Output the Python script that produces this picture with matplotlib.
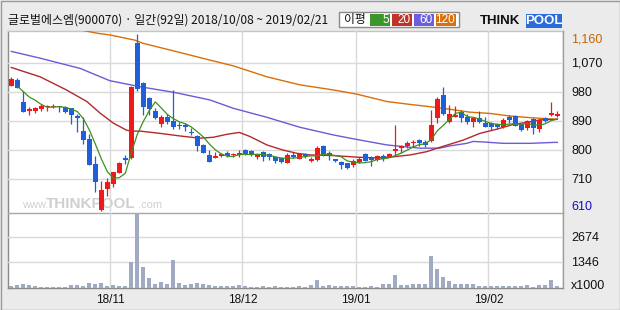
import numpy as np
import matplotlib.pyplot as plt
from matplotlib.patches import Rectangle

plt.rcParams['font.family'] = ['Noto Sans CJK KR', 'DejaVu Sans']

nan = np.nan

# daily candles, 2018/10/08 ~ 2019/02/21 (92 trading days)
opens = [1000, 1018, 950, 921, 923, 928, 933, 933, 937, 935, 930, 906, 860, 834, 757, 615, 679, 694, 730, 774,
         774, 1132, 1009, 961, 922, 881, 902, 890, 879, 878, 857, 844, 816, 785, 774, 783, 792, 785, 786, 800,
         797, 778, 794, 788, 778, 775, 761, 785, 773, 788, 767, 769, 813, 792, 771, 763, 759, 754, 763, 788,
         774, 769, 782, 780, 797, 808, 814, 821, 831, 824, 828, 899, 971, 888, 904, 919, 904, 886, 899, 885,
         883, 880, 873, 904, 907, 881, 870, 897, 866, 900, 908, 907]
highs = [1026, 1023, 984, 935, 935, 942, 941, 942, 937, 938, 932, 912, 902, 849, 782, 704, 712, 733, 763, 785,
         998, 1160, 1012, 965, 930, 909, 911, 987, 888, 883, 868, 846, 820, 800, 795, 792, 797, 790, 800, 802,
         799, 789, 796, 790, 780, 777, 791, 793, 790, 792, 779, 813, 815, 796, 773, 765, 761, 771, 780, 790,
         781, 785, 787, 790, 878, 816, 828, 831, 834, 831, 925, 964, 995, 940, 937, 925, 911, 901, 922, 904,
         888, 885, 899, 909, 909, 884, 894, 900, 897, 902, 950, 923]
lows = [1000, 992, 920, 908, 916, 922, 923, 932, 919, 916, 880, 857, 818, 754, 670, 610, 657, 685, 730, 757,
        771, 985, 909, 909, 896, 873, 880, 865, 865, 859, 847, 797, 790, 762, 774, 778, 780, 780, 778, 785,
        782, 773, 767, 770, 761, 761, 761, 775, 772, 775, 762, 767, 783, 769, 763, 740, 740, 746, 760, 765,
        751, 767, 767, 778, 785, 792, 808, 810, 813, 810, 826, 883, 910, 883, 902, 888, 881, 873, 884, 871,
        863, 867, 870, 883, 874, 860, 863, 850, 857, 888, 906, 902]
closes = [1020, 992, 920, 927, 931, 938, 937, 938, 933, 918, 908, 901, 832, 754, 702, 676, 702, 733, 759, 769,
          995, 989, 935, 928, 901, 902, 888, 873, 874, 873, 852, 814, 792, 764, 781, 788, 782, 787, 790, 788,
          784, 788, 780, 778, 767, 764, 785, 780, 788, 782, 773, 807, 785, 784, 766, 754, 743, 766, 773, 767,
          769, 781, 773, 788, 803, 812, 823, 825, 821, 817, 878, 959, 911, 912, 909, 901, 888, 899, 886, 873,
          871, 873, 894, 894, 876, 862, 890, 870, 894, 892, 914, 911]
volumes = [106, 159, 195, 142, 70, 50, 50, 50, 50, 50, 142, 142, 88, 265, 160, 248, 106, 142, 106, 70,
           1380, 3960, 1097, 531, 212, 300, 160, 1487, 248, 142, 212, 248, 160, 142, 106, 106, 106, 106, 142, 88,
           53, 53, 88, 53, 88, 53, 53, 53, 88, 53, 124, 425, 106, 142, 70, 106, 70, 88, 53, 53,
           88, 53, 160, 160, 673, 142, 124, 160, 160, 212, 1680, 1009, 566, 319, 160, 160, 160, 160, 106, 106,
           106, 106, 106, 106, 106, 106, 142, 53, 142, 142, 425, 106]

# moving averages
ma5 = [nan, 999, 982, 965, 955, 942, 933, 934, 935, 933, 927, 920, 898, 863, 819, 773, 733, 713, 714, 728,
       792, 849, 889, 923, 950, 931, 911, 898, 888, 882, 872, 857, 841, 819, 801, 788, 781, 780, 786, 787,
       786, 787, 786, 784, 779, 775, 775, 775, 777, 780, 782, 782, 787, 786, 783, 779, 766, 763, 760, 761,
       764, 771, 773, 776, 783, 791, 800, 810, 817, 820, 833, 860, 877, 895, 914, 918, 904, 902, 897, 889,
       883, 880, 879, 881, 882, 880, 883, 878, 878, 882, 892, 896]
ma20_x = [0, 4.8, 9.2, 12.6, 14.8, 17, 19.2, 20, 21.5, 24.8, 28.1, 31.4, 33.7, 35.9, 38, 39.8, 42.6, 45.3,
          47.6, 49.8, 53.7, 57.6, 60.3, 63.1, 66.5, 69.2, 71.5, 75.3, 78.1, 80.9, 83.7, 86.5, 88.1, 91]
ma20_y = [1057, 1028, 987, 951, 915, 884, 862, 859, 859, 852, 844, 837, 840, 849, 855, 842, 816, 800,
          790, 785, 783, 778, 776, 778, 785, 795, 809, 831, 852, 865, 880, 888, 894, 896]
ma60_x = [0, 4.8, 11.5, 16.4, 21.5, 27.3, 33.1, 37, 42.6, 48.1, 53.7, 57.6, 62.6, 64.8, 68.1, 71.4, 73.1,
          75.9, 77, 78.9, 82, 86.4, 90.6, 91]
ma60_y = [1107, 1086, 1054, 1016, 997, 979, 956, 930, 902, 871, 847, 833, 816, 812, 806, 806, 813,
          821, 827, 825, 821, 821, 824, 824]
ma120_x = [0, 12, 14.5, 16.5, 20.6, 22, 27.6, 33.1, 37, 42.6, 48.1, 53.7, 57.6, 62.6, 66.5, 69.8, 73.1,
           76.4, 79.8, 83.1, 86.4, 90.6, 91]
ma120_y = [1215, 1172, 1163, 1158, 1142, 1132, 1106, 1080, 1062, 1028, 1003, 987, 974, 951, 942, 935, 927,
           918, 914, 906, 901, 896, 896]

price_grid = [1070, 980, 890, 800, 710]
vol_grid = [1346, 2674]
month_pos = [16.5, 38.5, 57.5, 79.5]
month_labels = ["18/11", "18/12", "19/01", "19/02"]

UP, DOWN = "#f01818", "#1f5fd9"
GRID = "#d9d9d9"
W, H = 620, 310


def px(x0, y0, x1, y1):
    return [x0 / W, 1 - y1 / H, (x1 - x0) / W, (y1 - y0) / H]


fig = plt.figure(figsize=(6.2, 3.1), dpi=100, facecolor="#ebebeb")

# background layer in pixel coordinates
bg = fig.add_axes([0, 0, 1, 1], zorder=0)
bg.set_xlim(0, W)
bg.set_ylim(H, 0)
bg.axis("off")
bg.add_patch(Rectangle((8, 31), 554, 256.5, fc="white", ec="none"))
bg.add_patch(Rectangle((0.5, 0.5), W - 1, H - 1, fc="none", ec="#9a9a9a", lw=1))

# watermark
wm = "#d0d0d0"
bg.text(22, 208, "www.", color=wm, fontsize=8, family="Liberation Sans", va="baseline")
bg.text(46, 208.5, "THINKPOOL", color=wm, fontsize=11, family="Liberation Sans", weight="bold", va="baseline")
bg.text(138, 208, ".com", color=wm, fontsize=8, family="Liberation Sans", va="baseline")

# borders
bg.plot([8, 8], [31, 287.5], color="#8a8a8a", lw=1)
bg.plot([8, 562.5], [31, 31], color="#c4c4c4", lw=1)
bg.plot([8, 562.5], [212.5, 212.5], color="#a8a8a8", lw=1)
bg.plot([8, 562.5], [287.5, 287.5], color="#8a8a8a", lw=1)
bg.plot([562.5, 562.5], [31, 287.5], color="#a0a0a0", lw=1)

# header
bg.text(8, 20, "글로벌에스엠(900070) · 일간(92일) 2018/10/08 ~ 2019/02/21", fontsize=8.6, va="center", color="#111111")
bg.add_patch(Rectangle((339, 12), 120, 15, fc="white", ec="#8a8a8a", lw=1))
bg.text(344, 19.5, "이평", fontsize=8.5, va="center", color="#111111")
legend_boxes = [(370, 390, "5", "#3d962a"), (392, 412, "20", "#c23228"),
                (414, 434, "60", "#6a5fe0"), (436, 456, "120", "#d9700c")]
for x0, x1, lab, col in legend_boxes:
    bg.add_patch(Rectangle((x0, 14), x1 - x0, 11.5, fc=col, ec="none"))
    bg.text(x1 - 1, 20, lab, color="white", fontsize=8.5, family="Liberation Sans", ha="right", va="center")

# logo
bg.text(480, 21, "THINK", fontsize=9.5, weight="bold", family="Liberation Sans", va="center", color="#111111")
bg.add_patch(Rectangle((526, 14), 36, 14, fc="#2b6cdc", ec="none"))
bg.text(544, 21, "POOL", fontsize=9.5, weight="bold", family="Liberation Sans", ha="center", va="center", color="white")

# right axis labels
lab_font = dict(fontsize=9, family="Liberation Sans", va="center", ha="left")
bg.text(571, 40, "1,160", color="#c86400", **lab_font)
for p, y in zip(price_grid, [64, 93, 122, 151, 180]):
    bg.text(571, y, f"{p:,}", color="#111111", **lab_font)
bg.text(571, 207, "610", color="#1010c0", **lab_font)
bg.text(571, 238, "2674", color="#111111", **lab_font)
bg.text(571, 263, "1346", color="#111111", **lab_font)
bg.text(571, 286, "x1000", color="#111111", **lab_font)

xs = np.arange(len(closes))
xlim = (-0.55, 91.78)

# price panel
ax = fig.add_axes(px(8, 31, 562, 212), zorder=2)
ax.set_facecolor("none")
ax.set_xlim(*xlim)
ax.set_ylim(607.4, 1170.5)
for p in price_grid:
    ax.axhline(p, color=GRID, lw=1, zorder=0)
for m in month_pos:
    ax.axvline(m, color=GRID, lw=1, zorder=0)

ax.plot(ma120_x, ma120_y, color="#d96f06", lw=1, zorder=1)
ax.plot(ma60_x, ma60_y, color="#6b5bd6", lw=1, zorder=1)
ax.plot(ma20_x, ma20_y, color="#b3282b", lw=1, zorder=1)

for i in xs:
    o, h, l, c = opens[i], highs[i], lows[i], closes[i]
    col = UP if c >= o else DOWN
    ax.vlines(i, l, h, color=col, lw=0.9, zorder=3)
    ax.bar(i, max(abs(c - o), 4), bottom=min(o, c), width=0.78, color=col, lw=0, zorder=3)

ax.plot(xs, ma5, color="#3f8f1f", lw=0.9, zorder=4)

# volume panel
vax = fig.add_axes(px(8, 213, 562, 287.5), zorder=2)
vax.set_facecolor("none")
vax.set_xlim(*xlim)
vax.set_ylim(0, 3960)
for v in vol_grid:
    vax.axhline(v, color=GRID, lw=1, zorder=0)
for m in month_pos:
    vax.axvline(m, color=GRID, lw=1, zorder=0)
vax.bar(xs, volumes, width=0.72, color="#a0aac2", lw=0, zorder=2)

for a in (ax, vax):
    a.set_xticks([])
    a.set_yticks([])
    for s in a.spines.values():
        s.set_visible(False)

# month labels under the volume panel
for m, lab in zip(month_pos, month_labels):
    x_pix = 8 + (m - xlim[0]) / (xlim[1] - xlim[0]) * 554
    bg.text(x_pix, 300, lab, fontsize=8.5, family="Liberation Sans", ha="center", va="center", color="#111111")

fig.savefig("out.png", dpi=100, facecolor=fig.get_facecolor())
